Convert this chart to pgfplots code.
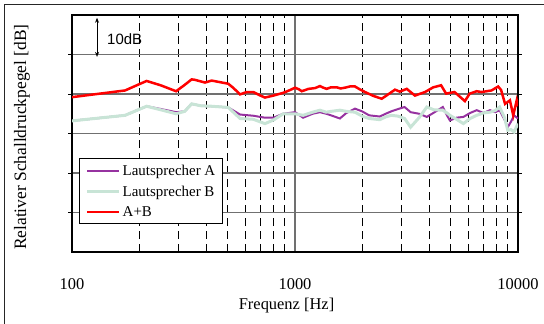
\documentclass[border=0pt]{standalone}
\usepackage{pgfplots}
\pgfplotsset{compat=1.18}
\usepackage{fontspec}
\setmainfont{Liberation Serif}
\newfontfamily\arial{Liberation Sans}
\usetikzlibrary{arrows.meta}

\definecolor{spkA}{RGB}{150,50,160}
\definecolor{spkB}{RGB}{200,228,214}
\definecolor{gridgray}{RGB}{112,112,112}

% measured response of speaker A
\pgfplotstableread{
f dB
100 33.2
173 34.6
216 36.9
250 36.2
293 35.4
320 35.6
344 37.5
380 37.0
423 36.9
502 36.6
567 34.8
650 34.5
733 34.0
800 34.0
886 35.0
1000 35.4
1087 34.0
1200 35.0
1294 35.4
1380 35.0
1450 34.6
1590 33.8
1700 35.2
1858 36.3
2000 35.6
2150 34.6
2400 34.3
2550 35.0
2700 35.6
2900 36.2
3100 36.7
3300 35.4
3600 35.0
3900 34.2
4200 35.3
4600 36.7
4800 34.6
4950 33.3
5300 34.0
5690 34.2
6100 35.2
6530 35.9
7000 35.2
7490 35.9
7900 35.4
8270 35.9
8700 33.5
9000 31.6
9300 33.0
9600 34.6
10000 33.8
}\speakerA

% measured response of speaker B
\pgfplotstableread{
f dB
100 33.2
173 34.6
216 36.9
250 36.0
293 35.0
320 35.6
344 37.5
380 37.0
423 36.9
502 36.6
567 33.8
650 33.6
733 32.5
800 33.4
886 35.0
1000 35.0
1087 34.6
1200 35.4
1294 35.9
1380 35.4
1450 35.6
1590 35.9
1700 35.6
1858 35.4
2000 34.4
2150 33.8
2400 33.5
2550 34.2
2700 34.6
2900 34.4
3100 33.8
3300 31.6
3600 34.0
3900 36.7
4200 36.0
4600 35.9
4800 35.2
4950 34.6
5300 33.6
5690 32.5
6100 33.8
6530 34.6
7000 35.2
7490 35.4
7900 35.8
8270 36.7
8700 34.0
9000 30.8
9300 31.0
9600 30.4
10000 32.5
}\speakerB

% both speakers together
\pgfplotstableread{
f dB
100 39.2
173 40.9
216 43.3
250 42.2
293 40.7
320 42.3
344 43.7
355 43.6
395 42.9
423 43.4
502 42.6
530 41.5
567 39.9
607 40.5
650 40.5
700 39.6
733 39.1
800 39.6
886 40.3
950 41.0
1000 41.6
1040 41.2
1072 40.7
1150 41.3
1230 41.5
1294 42.0
1340 41.6
1387 41.3
1450 41.7
1538 41.7
1600 41.4
1675 41.6
1760 41.9
1858 41.9
1950 41.2
2060 40.5
2250 39.5
2448 38.8
2600 39.8
2808 41.1
2950 40.6
3170 41.3
3450 39.6
3830 40.5
4170 41.7
4520 42.2
4760 40.1
5190 40.5
5780 38.2
6070 40.1
6530 40.7
6860 40.5
7610 40.9
8150 41.9
8400 41.0
8750 37.5
9200 38.4
9520 34.6
9870 38.4
10000 36.9
}\speakerAB

\begin{document}
\begin{tikzpicture}
\path[use as bounding box] (-72bp,-72bp) rectangle (472bp,252bp);
\begin{axis}[
  at={(0,0)}, anchor=south west,
  scale only axis, width=446bp, height=237bp,
  xmode=log, log basis x=10,
  xmin=100, xmax=10000, ymin=0, ymax=60,
  xtick={100,1000,10000},
  xticklabels={100,1000,10000},
  minor xtick={200,300,400,500,600,700,800,900,2000,3000,4000,5000,6000,7000,8000,9000},
  ytick={10,20,30,40,50},
  yticklabels={},
  xmajorgrids, ymajorgrids, xminorgrids,
  major grid style={gridgray, line width=1.2bp},
  minor grid style={black, line width=0.9bp, dash pattern=on 8bp off 5bp},
  major x tick style={draw=none},
  minor tick length=0pt,
  major y tick style={black, line width=0.8bp},
  major tick length=4bp,
  tick align=outside,
  axis line style={black, line width=1.6bp},
  xticklabel style={font=\fontsize{16.5}{18}\selectfont, anchor=base, yshift=-33bp},
  /pgf/number format/assume math mode=true,
  xlabel={Frequenz [Hz]},
  xlabel style={font=\fontsize{16.5}{18}\selectfont, at={(axis description cs:0.481,0)}, anchor=base, yshift=-57.5bp},
  ylabel={Relativer Schalldruckpegel [dB]},
  ylabel style={font=\fontsize{17.5}{19}\selectfont, at={(axis description cs:-0.1031,0.485)}, anchor=base},
  legend cell align=left,
  legend image code/.code={\draw[#1] (0bp,0bp) -- (32bp,0bp);},
  legend style={
    at={(axis description cs:0.0164,0.395)}, anchor=north west,
    font=\fontsize{15}{17}\selectfont,
    draw=black, line width=0.8bp, fill=white,
    inner xsep=6bp, inner ysep=5bp,
    row sep=7bp, column sep=1bp,
    nodes={inner sep=1bp}
  },
]
\addplot[spkA, line width=2bp] table[x=f, y=dB] {\speakerA};
\addlegendentry{Lautsprecher A}
\addplot[spkB, line width=3bp] table[x=f, y=dB] {\speakerB};
\addlegendentry{Lautsprecher B}
\addplot[red, line width=2.5bp] table[x=f, y=dB] {\speakerAB};
\addlegendentry{A+B}

% 10 dB scale marker
\draw[{Stealth[length=5bp,width=4bp]}-{Stealth[length=5bp,width=4bp]}, line width=0.9bp]
  (axis cs:129.5,59.3) -- (axis cs:129.5,49.4);
\node[anchor=west, inner sep=0pt, font=\arial\fontsize{15}{17}\selectfont]
  at (axis cs:143.6,54.0) {10dB};
\end{axis}
\draw[line width=1.3bp, black!85] (-67.5bp,-72bp) -- (-67.5bp,247.5bp) -- (472bp,247.5bp);
\end{tikzpicture}
\end{document}
